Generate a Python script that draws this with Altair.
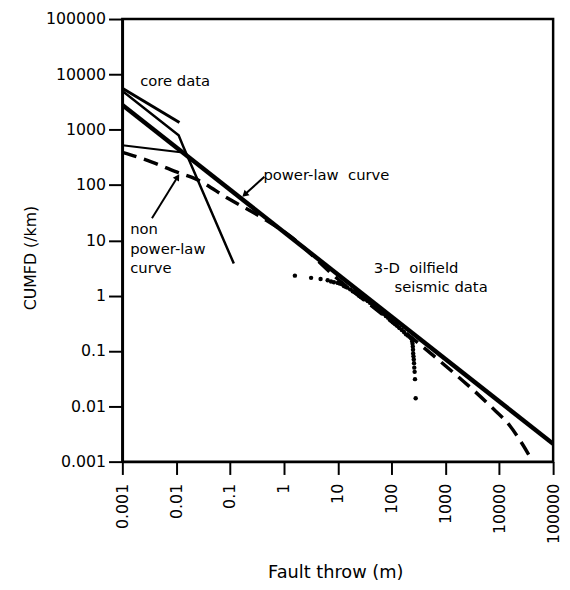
import altair as alt
import pandas as pd

FONT = "DejaVu Sans"

# ---------------- data ----------------
# power-law curve (thick straight line on log-log axes)
pl_x = [0.001, 100000]
pl_y = [2800, 0.0021]

# core data lines
coreA_x = [0.001, 0.0115]
coreA_y = [5600, 1350]
coreB_x = [0.001, 0.0111, 0.0137, 0.1175]
coreB_y = [5000, 790, 482, 3.8]

# short thin segment at small throws
thin_x = [0.001, 0.012]
thin_y = [525, 390]

# dashed non power-law curve
np_x = [0.001, 0.00355, 0.0098, 0.0229, 0.091, 0.44, 1.29, 10, 100, 832,
        6760, 15850, 27540, 41700]
np_y = [389, 260, 174, 129, 57.5, 24, 12, 2.0, 0.34, 0.063,
        0.0102, 0.0044, 0.002, 0.001]

# 3-D oilfield seismic data (dots)
seis_x = [1.6, 3.2, 4.8, 6.5, 7.5, 8.5, 10, 11, 12, 13, 14, 15, 17, 19, 21, 23,
          25, 27, 30, 33, 36, 40, 44, 48, 53, 58, 64, 70, 78, 86, 95, 105, 115,
          125, 140, 155, 170, 185, 200, 215, 230, 240,
          242, 245, 248, 250, 252, 255, 258, 261, 264, 268, 272, 280]
seis_y = [2.3, 2.1, 2.0, 1.9, 1.8, 1.75, 1.7, 1.65, 1.6, 1.5, 1.45, 1.4, 1.3,
          1.2, 1.15, 1.1, 1.0, 0.95, 0.9, 0.85, 0.8, 0.74, 0.68, 0.64, 0.6,
          0.55, 0.5, 0.47, 0.43, 0.4, 0.36, 0.33, 0.31, 0.29, 0.26, 0.24, 0.22,
          0.2, 0.19, 0.18, 0.17, 0.165,
          0.15, 0.135, 0.12, 0.105, 0.09, 0.08, 0.07, 0.06, 0.05, 0.042, 0.031, 0.014]

# annotation texts (data coordinates)
txt_label = ["core data", "power-law\u00a0\u00a0curve", "non", "power-law", "curve",
             "3-D\u00a0\u00a0oilfield", "seismic data"]
txt_x = [0.00214, 0.416, 0.0014, 0.0014, 0.0014, 46.8, 113.5]
txt_y = [6140, 124, 13.0, 5.73, 2.52, 2.62, 1.155]

# arrows: tail -> tip
arr_x = [0.434, 0.00355]
arr_y = [140.6, 25]
arr_x2 = [0.187, 0.0106]
arr_y2 = [67.1, 140]
arr_angle = [228, 32]

tick_values = [0.001, 0.01, 0.1, 1, 10, 100, 1000, 10000, 100000]

# ---------------- chart ----------------
xscale = alt.Scale(type="log", domain=[0.001, 100000], nice=False)
yscale = alt.Scale(type="log", domain=[0.001, 100000], nice=False)

label_expr = "datum.value >= 1 ? format(datum.value, 'd') : format(datum.value, '~g')"

xaxis = alt.Axis(values=tick_values, labelExpr=label_expr, labelAngle=-90,
                 tickSize=13, labelPadding=9, title="Fault throw (m)",
                 titleX=216, titleY=113, titleBaseline="middle", titleFontSize=18)
yaxis = alt.Axis(values=tick_values, labelExpr=label_expr, tickSize=14,
                 labelPadding=3, title="CUMFD (/km)", titleX=-93, titleY=242,
                 titleBaseline="middle", titleFontSize=16)


def enc(chart):
    return chart.encode(
        x=alt.X("x:Q", scale=xscale, axis=xaxis),
        y=alt.Y("y:Q", scale=yscale, axis=yaxis),
    )


def df(xs, ys):
    return pd.DataFrame({"x": xs, "y": ys})


power = enc(alt.Chart(df(pl_x, pl_y)).mark_line(color="black", strokeWidth=4.5, clip=True))
coreA = enc(alt.Chart(df(coreA_x, coreA_y)).mark_line(color="black", strokeWidth=3, clip=True))
coreB = enc(alt.Chart(df(coreB_x, coreB_y)).mark_line(color="black", strokeWidth=2.5, clip=True))
thin = enc(alt.Chart(df(thin_x, thin_y)).mark_line(color="black", strokeWidth=2, clip=True))
nonpl = enc(alt.Chart(df(np_x, np_y)).mark_line(color="black", strokeWidth=3.5,
                                                strokeDash=[15, 8], interpolate="monotone",
                                                clip=True))
seis = enc(alt.Chart(df(seis_x, seis_y)).mark_circle(color="black", size=20, opacity=1, clip=True))

texts = enc(alt.Chart(pd.DataFrame({"x": txt_x, "y": txt_y, "t": txt_label})).mark_text(
    align="left", baseline="alphabetic", font=FONT, fontSize=15, color="black"
)).encode(text="t:N")

arrows_df = pd.DataFrame({"x": arr_x, "y": arr_y, "x2": arr_x2, "y2": arr_y2, "a": arr_angle})
arrow_lines = enc(alt.Chart(arrows_df).mark_rule(color="black", strokeWidth=2)).encode(
    x2="x2:Q", y2="y2:Q")
arrow_heads = alt.Chart(arrows_df).mark_point(
    shape="triangle-up", filled=True, color="black", size=55, opacity=1
).encode(
    x=alt.X("x2:Q", scale=xscale, axis=xaxis),
    y=alt.Y("y2:Q", scale=yscale, axis=yaxis),
    angle=alt.Angle("a:Q", scale=None),
)

chart = alt.layer(
    nonpl, thin, coreA, coreB, power, seis, arrow_lines, arrow_heads, texts
).properties(
    width=437, height=449, autosize="none",
    padding={"left": 116, "top": 7, "right": 9, "bottom": 125},
).configure_view(
    stroke="black", strokeWidth=2.5
).configure_axis(
    grid=False, domainColor="black", domainWidth=2.5, tickColor="black", tickWidth=2,
    labelFont=FONT, labelFontSize=16, labelColor="black", titleFont=FONT,
    titleColor="black", titleFontWeight="normal", labelFlush=False, labelOverlap=False,
)

chart.save("out.html", embed_options={"renderer": "svg", "actions": False})
